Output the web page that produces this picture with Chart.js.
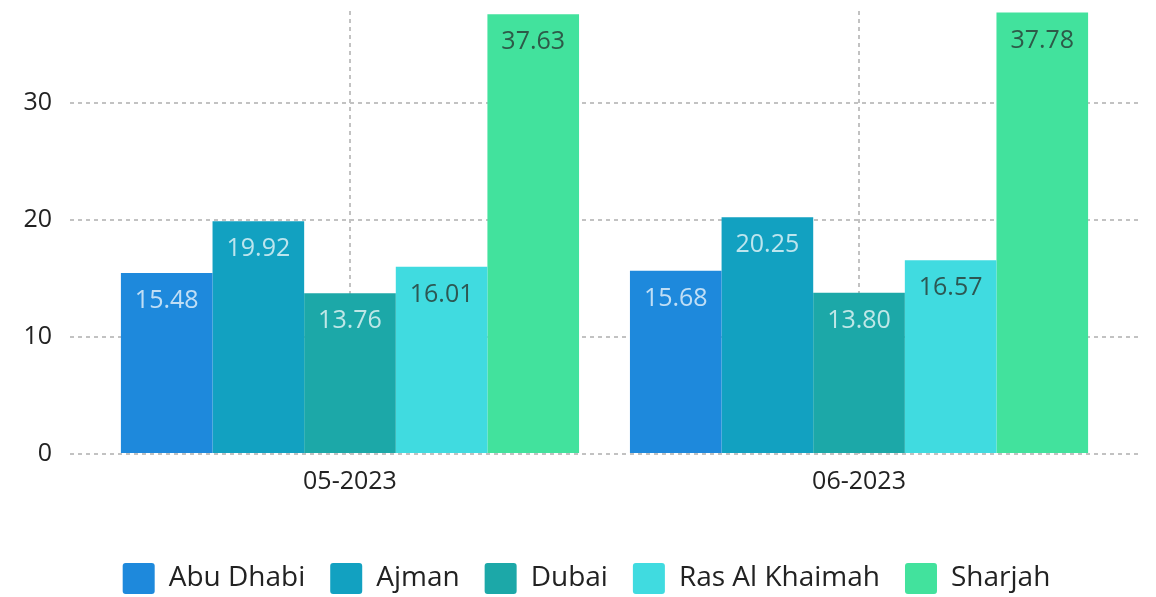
<!DOCTYPE html>
<html lang="en">
<head>
    <meta charset="UTF-8">
    <title>Emirates chart</title>
    <script src="https://cdn.jsdelivr.net/npm/chart.js"></script>
    <style>
        body {
            margin: 0;
            padding: 0;
            background: #fff;
        }
        #wrap {
            width: 1156px;
            height: 597px;
        }
    </style>
</head>
<body>
    <div id="wrap"><canvas id="barChart"></canvas></div>

    <script>
        const months = ['05-2023', '06-2023'];
        const emirates = ['Abu Dhabi', 'Ajman', 'Dubai', 'Ras Al Khaimah', 'Sharjah'];
        const abuDhabi = [15.48, 15.68];
        const ajman = [19.92, 20.25];
        const dubai = [13.76, 13.80];
        const rasAlKhaimah = [16.01, 16.57];
        const sharjah = [37.63, 37.78];
        const yTicks = [0, 10, 20, 30];

        const seriesValues = [abuDhabi, ajman, dubai, rasAlKhaimah, sharjah];
        const barColors = ['#1e89dc', '#12a1c1', '#1ca8a8', '#40dbe0', '#42e29d'];
        const labelColors = ['rgba(255,255,255,0.72)', 'rgba(255,255,255,0.72)', 'rgba(255,255,255,0.72)', '#2d5753', '#2d5a48'];

        // simple value labels drawn inside the top of each bar
        const barLabels = {
            id: 'barLabels',
            afterLayout(chart) {
                // legend is centred a bit right of the canvas middle
                chart.legend.left = 34;
            },
            afterDatasetsDraw(chart) {
                const ctx = chart.ctx;
                ctx.save();
                ctx.font = '25px "Open Sans"';
                ctx.textAlign = 'center';
                ctx.textBaseline = 'middle';
                chart.data.datasets.forEach((ds, i) => {
                    const meta = chart.getDatasetMeta(i);
                    ctx.fillStyle = labelColors[i];
                    meta.data.forEach((bar, j) => {
                        ctx.fillText(ds.data[j].y.toFixed(2), bar.x, bar.y + 28);
                    });
                });
                ctx.restore();
            }
        };

        const datasets = emirates.map((name, i) => ({
            label: name,
            data: seriesValues[i].map((v, j) => ({ x: j, y: v })),
            backgroundColor: barColors[i],
            borderWidth: 0,
            categoryPercentage: 0.9,
            barPercentage: 1.0
        }));

        new Chart(document.getElementById('barChart'), {
            type: 'bar',
            data: { datasets: datasets },
            options: {
                responsive: true,
                maintainAspectRatio: false,
                animation: false,
                layout: { padding: { top: 11, right: 17, left: 0, bottom: 0 } },
                scales: {
                    x: {
                        type: 'linear',
                        min: -0.55,
                        max: 1.55,
                        offset: false,
                        afterBuildTicks: (scale) => {
                            scale.ticks = months.map((m, i) => ({ value: i }));
                        },
                        afterFit: (scale) => {
                            scale.height = 84;
                            scale.paddingLeft = 0;
                            scale.paddingRight = 0;
                        },
                        ticks: {
                            callback: (value) => months[value],
                            color: '#222',
                            font: { family: 'Open Sans', size: 25 },
                            padding: 13,
                            maxRotation: 0
                        },
                        grid: {
                            offset: false,
                            drawTicks: false,
                            color: '#c2c2c2',
                            lineWidth: 2
                        },
                        border: { display: false, dash: [4, 4] }
                    },
                    y: {
                        min: 0,
                        max: 37.9,
                        afterBuildTicks: (scale) => {
                            scale.ticks = yTicks.map(v => ({ value: v }));
                        },
                        afterFit: (scale) => {
                            scale.width = 70;
                            scale.paddingTop = 0;
                            scale.paddingBottom = 0;
                        },
                        ticks: {
                            color: '#222',
                            font: { family: 'Open Sans', size: 25 },
                            padding: 18
                        },
                        grid: {
                            drawTicks: false,
                            color: '#c2c2c2',
                            lineWidth: 2
                        },
                        border: { display: false, dash: [4, 4] }
                    }
                },
                plugins: {
                    legend: {
                        position: 'bottom',
                        maxHeight: 59,
                        labels: {
                            boxWidth: 32,
                            boxHeight: 31,
                            padding: 25,
                            color: '#222',
                            useBorderRadius: true,
                            borderRadius: 3,
                            font: { family: 'Open Sans', size: 28 }
                        }
                    },
                    tooltip: { enabled: false }
                }
            },
            plugins: [barLabels]
        });
    </script>
</body>
</html>
